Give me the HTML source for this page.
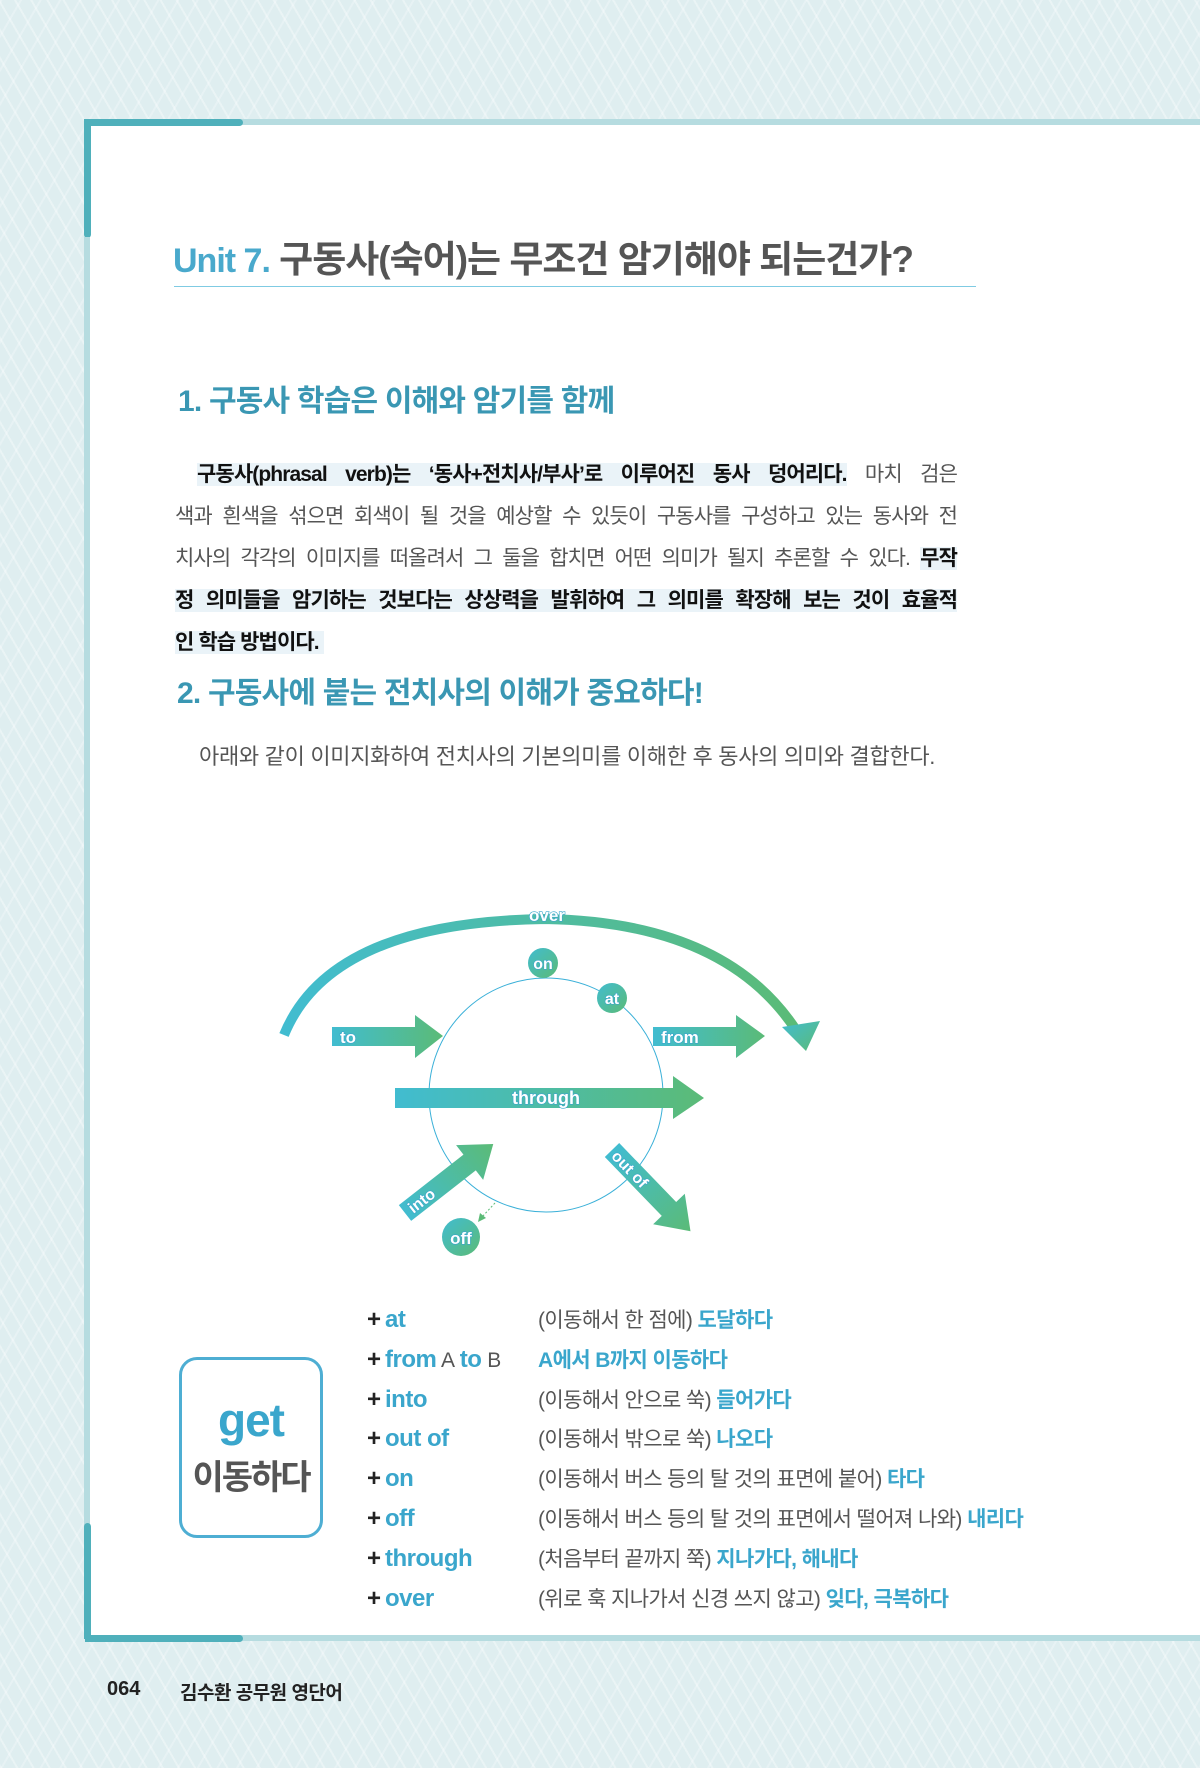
<!DOCTYPE html>
<html><head><meta charset="utf-8"><style>
*{margin:0;padding:0;box-sizing:border-box}
body{width:1200px;height:1768px;position:relative;overflow:hidden;background:#dfeef0;font-family:"Liberation Sans","Noto Sans CJK KR",sans-serif;}
.bg{position:absolute;inset:0;background:repeating-linear-gradient(60deg,rgba(255,255,255,.35) 0 2px,transparent 2px 14px),repeating-linear-gradient(-60deg,rgba(255,255,255,.25) 0 2px,transparent 2px 17px)}
.page{position:absolute;left:88px;top:124px;width:1112px;height:1512px;background:#fff}
.abs{position:absolute;white-space:nowrap}
.pl{position:absolute;left:175px;width:782px;font-size:21px;letter-spacing:-0.9px;color:#555;text-align:justify;text-align-last:justify;line-height:26px}
.hl{background:#eaf3f8;color:#111;font-weight:bold}
.row{position:absolute;left:367px;font-size:24px;line-height:28px;white-space:nowrap}
.row .a{color:#3aa6cc;font-weight:bold;letter-spacing:-0.5px}
.row .p{color:#222;font-weight:bold;margin-right:4px}
.row .d{position:absolute;left:171px;top:1px;font-size:21px;color:#555;letter-spacing:-0.6px}
.row .d b{color:#3aa6cc}
</style></head><body>
<div class="bg"></div>
<div class="page"></div>
<div class="abs" style="left:85px;top:119px;width:1115px;height:6px;background:#b6dce0"></div>
<div class="abs" style="left:85px;top:119px;width:158px;height:7px;background:#4fb0bb;border-radius:0 4px 4px 0"></div>
<div class="abs" style="left:84px;top:119px;width:7px;height:119px;background:#4fb0bb;border-radius:0 0 4px 4px"></div>
<div class="abs" style="left:84px;top:237px;width:6px;height:1402px;background:#b6dce0"></div>
<div class="abs" style="left:84px;top:1523px;width:7px;height:116px;background:#4fb0bb;border-radius:4px 4px 0 0"></div>
<div class="abs" style="left:85px;top:1635px;width:1115px;height:6px;background:#b6dce0"></div>
<div class="abs" style="left:85px;top:1635px;width:158px;height:7px;background:#4fb0bb;border-radius:0 4px 4px 0"></div>

<div class="abs" style="left:173px;top:229px;font-size:37px;font-weight:bold;letter-spacing:-1px;color:#555"><span style="color:#49a9cc;font-size:34px">Unit 7.</span> 구동사(숙어)는 무조건 암기해야 되는건가?</div>
<div class="abs" style="left:174px;top:286px;width:802px;height:1px;background:#7fcbe3"></div>

<div class="abs" style="left:178px;top:376px;font-size:30px;font-weight:bold;letter-spacing:-0.8px;color:#3a97b3">1. 구동사 학습은 이해와 암기를 함께</div>

<div class="pl" style="top:462px;padding-left:22px"><span class="hl">구동사(phrasal verb)는 ‘동사+전치사/부사’로 이루어진 동사 덩어리다.</span> 마치 검은</div>
<div class="pl" style="top:504px">색과 흰색을 섞으면 회색이 될 것을 예상할 수 있듯이 구동사를 구성하고 있는 동사와 전</div>
<div class="pl" style="top:546px">치사의 각각의 이미지를 떠올려서 그 둘을 합치면 어떤 의미가 될지 추론할 수 있다. <span class="hl">무작</span></div>
<div class="pl" style="top:588px"><span class="hl">정 의미들을 암기하는 것보다는 상상력을 발휘하여 그 의미를 확장해 보는 것이 효율적</span></div>
<div class="abs" style="left:175px;top:630px;font-size:21px;letter-spacing:-0.9px;line-height:26px"><span class="hl">인 학습 방법이다.&nbsp;</span></div>

<div class="abs" style="left:177px;top:668px;font-size:30px;font-weight:bold;letter-spacing:-0.8px;color:#3a97b3">2. 구동사에 붙는 전치사의 이해가 중요하다!</div>
<div class="abs" style="left:199px;top:739px;font-size:22px;letter-spacing:-0.3px;color:#555">아래와 같이 이미지화하여 전치사의 기본의미를 이해한 후 동사의 의미와 결합한다.</div>

<svg class="abs" style="left:0;top:0" width="1200" height="1768">
<defs>
<linearGradient id="g" x1="0" x2="1" y1="0" y2="0"><stop offset="0" stop-color="#41bcd0"/><stop offset="1" stop-color="#5bbb77"/></linearGradient>
<linearGradient id="gd" x1="0" x2="1" y1="0" y2="1"><stop offset="0" stop-color="#41bcd0"/><stop offset="1" stop-color="#5bbb77"/></linearGradient>
</defs>
<style>.t{font-family:"Liberation Sans",sans-serif;font-weight:bold;fill:#fff;stroke:#3aa6cc;stroke-width:1.2px;paint-order:stroke}</style>
<circle cx="546" cy="1095" r="117" fill="none" stroke="#3ab0d8" stroke-width="1"/>
<path d="M284 1035 Q 330 922 545 919 Q 725 922 796 1030" fill="none" stroke="url(#g)" stroke-width="10"/>
<polygon points="782,1027 820,1021 806,1051" fill="url(#gd)"/>
<text x="547" y="921" class="t" font-size="17" text-anchor="middle">over</text>
<circle cx="543" cy="963" r="15" fill="url(#gd)"/><text x="543" y="969" class="t" font-size="16" text-anchor="middle">on</text>
<circle cx="612" cy="998" r="15" fill="url(#gd)"/><text x="612" y="1004" class="t" font-size="16" text-anchor="middle">at</text>
<polygon points="332,1027 415,1027 415,1015 443,1036 415,1058 415,1046 332,1046" fill="url(#g)"/>
<text x="340" y="1043" class="t" font-size="17">to</text>
<polygon points="653,1027 736,1027 736,1015 765,1036 736,1058 736,1046 653,1046" fill="url(#g)"/>
<text x="661" y="1043" class="t" font-size="17">from</text>
<polygon points="395,1088 673,1088 673,1076 704,1098 673,1119 673,1108 395,1108" fill="url(#g)"/>
<text x="546" y="1104" class="t" font-size="18" text-anchor="middle">through</text>
<g transform="translate(405,1213) rotate(-38)">
<polygon points="0,-10 82,-10 82,-22 112,0 82,22 82,10 0,10" fill="url(#g)"/>
<text x="6" y="6" class="t" font-size="16">into</text></g>
<g transform="translate(612,1150) rotate(46)">
<polygon points="0,-10 82,-10 82,-22 113,0 82,22 82,10 0,10" fill="url(#g)"/>
<text x="4" y="6" class="t" font-size="16">out of</text></g>
<line x1="495" y1="1203" x2="482" y2="1217" stroke="#5bbb77" stroke-dasharray="2,2"/>
<polygon points="478,1222 480,1213 486,1218" fill="#5bbb77"/>
<circle cx="461" cy="1237" r="19" fill="url(#gd)"/><text x="461" y="1244" class="t" font-size="17" text-anchor="middle">off</text>
</svg>

<div class="abs" style="left:179px;top:1357px;width:144px;height:181px;border:3px solid #4eaed3;border-radius:18px;background:#fff"></div>
<div class="abs" style="left:179px;width:144px;top:1393px;text-align:center;font-size:46px;font-weight:bold;color:#3aa6cc;letter-spacing:-1px">get</div>
<div class="abs" style="left:179px;width:144px;top:1450px;text-align:center;font-size:34px;font-weight:bold;color:#555;letter-spacing:-2px">이동하다</div>

<div class="row" style="top:1306px"><span class="p">+</span><span class="a">at</span><span class="d">(이동해서 한 점에) <b>도달하다</b></span></div>
<div class="row" style="top:1346px"><span class="p">+</span><span class="a">from</span><span style="color:#555;font-size:21px"> A </span><span class="a">to</span><span style="color:#555;font-size:21px"> B</span><span class="d" style="color:#3aa6cc;font-weight:bold">A에서 B까지 이동하다</span></div>
<div class="row" style="top:1386px"><span class="p">+</span><span class="a">into</span><span class="d">(이동해서 안으로 쑥) <b>들어가다</b></span></div>
<div class="row" style="top:1425px"><span class="p">+</span><span class="a">out of</span><span class="d">(이동해서 밖으로 쑥) <b>나오다</b></span></div>
<div class="row" style="top:1465px"><span class="p">+</span><span class="a">on</span><span class="d">(이동해서 버스 등의 탈 것의 표면에 붙어) <b>타다</b></span></div>
<div class="row" style="top:1505px"><span class="p">+</span><span class="a">off</span><span class="d">(이동해서 버스 등의 탈 것의 표면에서 떨어져 나와) <b>내리다</b></span></div>
<div class="row" style="top:1545px"><span class="p">+</span><span class="a">through</span><span class="d">(처음부터 끝까지 쭉) <b>지나가다, 해내다</b></span></div>
<div class="row" style="top:1585px"><span class="p">+</span><span class="a">over</span><span class="d">(위로 훅 지나가서 신경 쓰지 않고) <b>잊다, 극복하다</b></span></div>

<div class="abs" style="left:107px;top:1678px;font-size:20px;font-weight:bold;color:#222">064</div>
<div class="abs" style="left:180px;top:1678px;font-size:19px;font-weight:bold;color:#222;letter-spacing:-0.5px">김수환 공무원 영단어</div>
</body></html>
